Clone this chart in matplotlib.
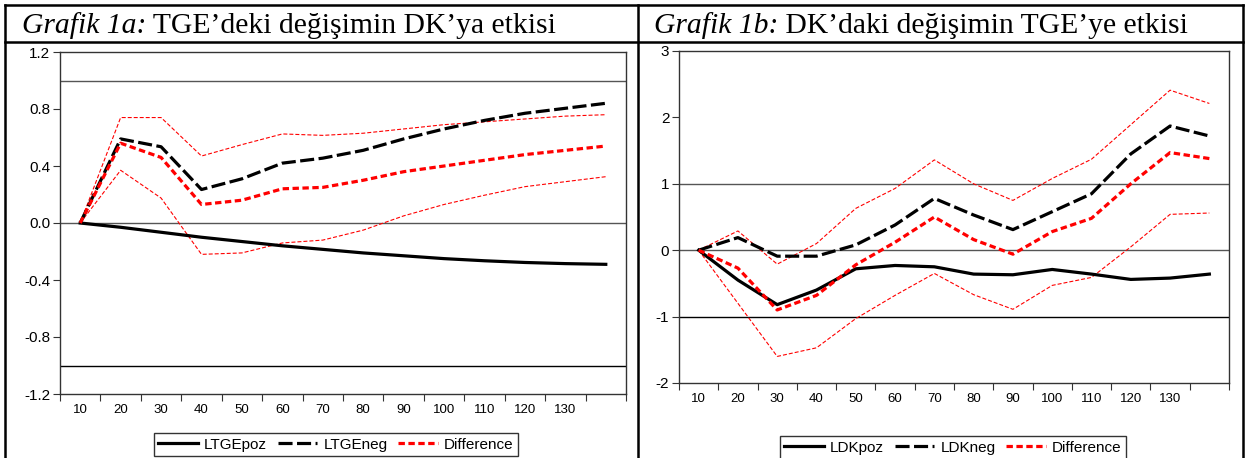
import matplotlib
matplotlib.use("Agg")
import matplotlib.pyplot as plt
from matplotlib.lines import Line2D

W, H = 1245, 458

# horizon labels (14 periods, last one unlabeled)
periods = list(range(1, 15))
tick_labels = ['10', '20', '30', '40', '50', '60', '70', '80', '90',
               '100', '110', '120', '130']

# Grafik 1a: TGE -> DK
ltge_poz = [0, -0.03, -0.065, -0.10, -0.13, -0.16, -0.185, -0.21, -0.23,
            -0.25, -0.265, -0.277, -0.285, -0.29]
ltge_neg = [0, 0.59, 0.535, 0.235, 0.31, 0.42, 0.455, 0.51, 0.59, 0.66,
            0.72, 0.77, 0.805, 0.84]
diff_a = [0, 0.56, 0.46, 0.13, 0.16, 0.24, 0.25, 0.30, 0.36, 0.40, 0.44,
          0.48, 0.51, 0.54]
upper_a = [0, 0.74, 0.74, 0.47, 0.55, 0.625, 0.615, 0.63, 0.66, 0.69, 0.71,
           0.73, 0.75, 0.76]
lower_a = [0, 0.37, 0.175, -0.22, -0.21, -0.14, -0.12, -0.05, 0.05, 0.13,
           0.195, 0.255, 0.29, 0.325]

# Grafik 1b: DK -> TGE
ldk_poz = [0, -0.45, -0.82, -0.60, -0.28, -0.23, -0.25, -0.36, -0.37, -0.29,
           -0.36, -0.44, -0.42, -0.36]
ldk_neg = [0, 0.19, -0.09, -0.09, 0.08, 0.38, 0.78, 0.53, 0.31, 0.58, 0.85,
           1.45, 1.87, 1.72]
diff_b = [0, -0.27, -0.90, -0.68, -0.22, 0.12, 0.50, 0.16, -0.06, 0.28, 0.48,
          1.00, 1.47, 1.38]
upper_b = [0, 0.29, -0.21, 0.10, 0.63, 0.93, 1.36, 1.00, 0.75, 1.08, 1.37,
           1.89, 2.41, 2.21]
lower_b = [0, -0.80, -1.60, -1.47, -1.03, -0.68, -0.35, -0.67, -0.89, -0.53,
           -0.41, 0.05, 0.54, 0.56]

plt.rcParams['font.family'] = ['Liberation Sans', 'DejaVu Sans']

fig = plt.figure(figsize=(W / 100, H / 100), dpi=100)


def rect(x0, x1, ytop, ybot):
    return [x0 / W, 1 - ybot / H, (x1 - x0) / W, (ybot - ytop) / H]


def panel(ax, poz, neg, diff, up, lo, ylim, yticks, yfmt, refs, names):
    for r, c in refs:
        ax.axhline(r, color=c, lw=1.0, zorder=1)
    l1, = ax.plot(periods, poz, color='black', lw=2.3, label=names[0], zorder=4)
    l2, = ax.plot(periods, neg, color='black', lw=2.3, dashes=(4.4, 1.4),
                  label=names[1], zorder=4)
    l3, = ax.plot(periods, diff, color='red', lw=2.3, dashes=(2.0, 1.1),
                  label='Difference', zorder=5)
    ax.plot(periods, up, color='red', lw=0.8, dashes=(3.6, 1.8), zorder=3)
    ax.plot(periods, lo, color='red', lw=0.8, dashes=(3.6, 1.8), zorder=3)

    ax.set_xlim(0.5, 14.5)
    ax.set_ylim(*ylim)
    ax.set_yticks(yticks)
    ax.set_yticklabels([yfmt.format(v) for v in yticks])
    # tick marks on period boundaries, labels in the middle
    ax.set_xticks([p + 0.5 for p in range(0, 15)])
    ax.set_xticklabels([])
    ax.set_xticks(periods[:13], minor=True)
    ax.set_xticklabels(tick_labels, minor=True)
    ax.tick_params(axis='x', which='major', direction='out', length=5,
                   width=0.8, color='#333333')
    ax.tick_params(axis='x', which='minor', length=0, labelsize=9.5, pad=7)
    ax.tick_params(axis='y', direction='out', length=5, width=0.8,
                   labelsize=11, color='#333333', pad=2)
    for s in ax.spines.values():
        s.set_color('#333333')
        s.set_linewidth(1.0)
    return [l1, l2, l3]


ax1 = fig.add_axes(rect(60, 626, 52, 394))
h1 = panel(ax1, ltge_poz, ltge_neg, diff_a, upper_a, lower_a,
           (-1.2, 1.2), [-1.2, -0.8, -0.4, 0.0, 0.4, 0.8, 1.2], '{:.1f}',
           [(1.0, '#555555'), (0.0, '#555555'), (-1.0, 'black')],
           ['LTGEpoz', 'LTGEneg'])

ax2 = fig.add_axes(rect(679, 1229, 51, 383))
h2 = panel(ax2, ldk_poz, ldk_neg, diff_b, upper_b, lower_b,
           (-2, 3), [-2, -1, 0, 1, 2, 3], '{:d}',
           [(1, '#555555'), (0, '#555555'), (-1, 'black')],
           ['LDKpoz', 'LDKneg'])

for handles, cx, top in [(h1, 336, 433), (h2, 953, 436)]:
    leg = fig.legend(handles=handles, loc='upper center', ncol=3,
                     bbox_to_anchor=(cx / W, 1 - top / H), borderaxespad=0,
                     fontsize=11, frameon=True, fancybox=False,
                     edgecolor='black', handlelength=2.6, columnspacing=0.7,
                     handletextpad=0.4, borderpad=0.3)
    leg.get_frame().set_linewidth(1.0)


# table frame around the two graphs
def hline(y, x0=5, x1=1243, lw=1.8):
    fig.add_artist(Line2D([x0 / W, x1 / W], [1 - y / H, 1 - y / H],
                          color='black', lw=lw, transform=fig.transFigure))


def vline(x, y0=5, y1=458, lw=1.8):
    fig.add_artist(Line2D([x / W, x / W], [1 - y0 / H, 1 - y1 / H],
                          color='black', lw=lw, transform=fig.transFigure))


hline(5)
hline(42)
vline(5)
vline(638)
vline(1243)

# panel titles: italic label + regular text
renderer = fig.canvas.get_renderer()
for x, lab, rest in [(22, 'Grafik 1a:', ' TGE’deki değişimin DK’ya etkisi'),
                     (654, 'Grafik 1b:', ' DK’daki değişimin TGE’ye etkisi')]:
    t = fig.text(x / W, 1 - 33 / H, lab, fontsize=21.3, style='italic',
                 family=['Liberation Serif', 'DejaVu Serif'], va='baseline')
    bb = t.get_window_extent(renderer)
    fig.text(bb.x1 / W, 1 - 33 / H, rest, fontsize=21.3,
             family=['Liberation Serif', 'DejaVu Serif'], va='baseline')

fig.savefig('out.png', dpi=100)
